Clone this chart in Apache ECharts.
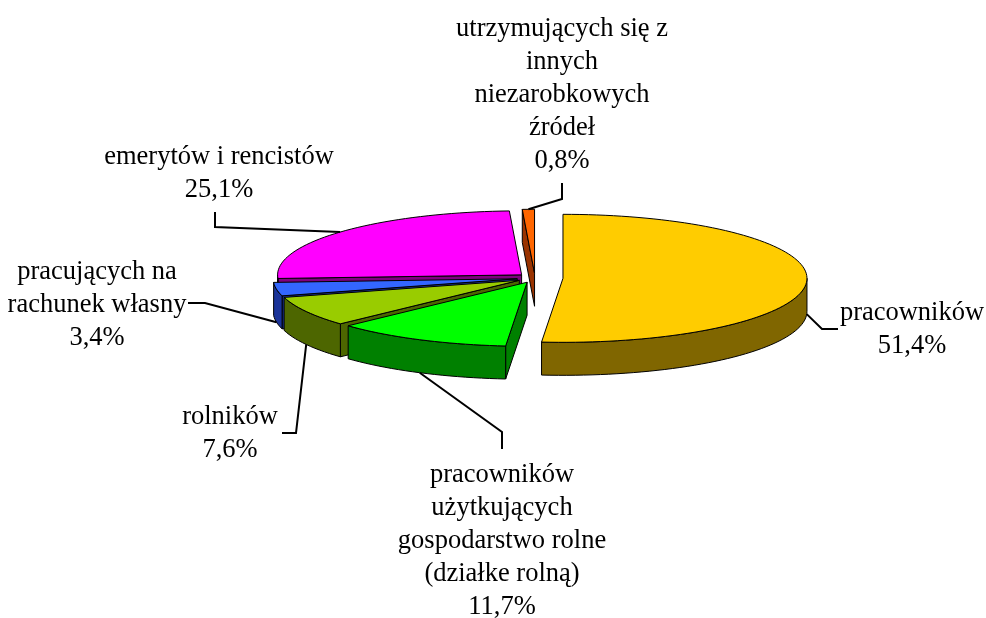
<!DOCTYPE html>
<html>
<head>
<meta charset="utf-8">
<script src="https://cdn.jsdelivr.net/npm/echarts@6/dist/echarts.min.js"></script>
<style>
html, body { margin: 0; background: #fff; }
#main { width: 986px; height: 618px; }
</style>
</head>
<body>
<div id="main"></div>
<script>
// dane
const names = ['pracowników', 'pracowników\nużytkujących\ngospodarstwo rolne\n(działke rolną)', 'rolników', 'pracujących na\nrachunek własny', 'emerytów i rencistów', 'utrzymujących się z\ninnych\nniezarobkowych\nźródeł']
const values = [51.4, 11.7, 7.6, 3.4, 25.1, 0.8]

// wygląd
const topColors = ['#FFCC00', '#00FF00', '#99CC00', '#3366FF', '#FF00FF', '#FF6600']
const sideColors = ['#806600', '#008000', '#4D6600', '#1A3399', '#800080', '#993300']
const explode = [28, 18, 18, 18, 18, 18]
const labelPos = [[912, 330], [502, 541], [230, 434], [97, 305], [219, 174], [562, 95]]
const leaderBend = [[822, 329], [502, 432], [296, 433], [205, 303], [215, 227], [562, 199]]
const leaderEnd = [[838, 329], [502, 449], [282, 433], [188, 303], [215, 212], [562, 183]]

const cx = 535, cy = 278, rx = 244, ry = 64, depth = 33
const total = values.reduce((a, b) => a + b, 0)
const rad = (d) => d * Math.PI / 180

const pt = (ox, oy, deg) => [ox + rx * Math.sin(rad(deg)), oy - ry * Math.cos(rad(deg))]

const renderItem = (params, api) => {
	const i = params.dataIndex
	let before = 0
	for (let k = 0; k < i; k++) before += values[k]
	const a0 = before / total * 360
	const a1 = (before + api.value(0)) / total * 360
	const mid = (a0 + a1) / 2
	const ox = cx + explode[i] * Math.sin(rad(mid))
	const oy = cy - explode[i] * ry / rx * Math.cos(rad(mid))
	const line = { stroke: '#000', lineWidth: 1, lineJoin: 'round' }
	const children = []

	// boczne ściany promieniowe
	;[[a0, a0 - 90], [a1, a1 + 90]].forEach(([a, n]) => {
		if (Math.cos(rad(n)) >= 0) return
		const p = pt(ox, oy, a)
		children.push({
			type: 'polygon',
			z2: 100 + (oy + p[1]) / 2 + depth / 2,
			shape: { points: [[ox, oy], p, [p[0], p[1] + depth], [ox, oy + depth]] },
			style: { fill: sideColors[i], ...line }
		})
	})

	// zewnętrzna ściana (przednia połowa)
	const w0 = Math.max(a0, 90), w1 = Math.min(a1, 270)
	if (w1 > w0) {
		const top = [], bot = []
		const n = Math.max(2, Math.ceil((w1 - w0) / 2))
		for (let k = 0; k <= n; k++) {
			const p = pt(ox, oy, w0 + (w1 - w0) * k / n)
			top.push(p)
			bot.unshift([p[0], p[1] + depth])
		}
		const pm = pt(ox, oy, (w0 + w1) / 2)
		children.push({
			type: 'polygon',
			z2: 100 + pm[1] + depth / 2,
			shape: { points: top.concat(bot) },
			style: { fill: sideColors[i], ...line }
		})
	}

	// górna powierzchnia
	const face = [[ox, oy]]
	const n = Math.max(2, Math.ceil((a1 - a0) / 2))
	for (let k = 0; k <= n; k++) face.push(pt(ox, oy, a0 + (a1 - a0) * k / n))
	children.push({
		type: 'polygon',
		z2: 1000,
		shape: { points: face },
		style: { fill: topColors[i], ...line }
	})

	// linia odniesienia i etykieta
	const ls = pt(ox, oy, mid)
	if (Math.cos(rad(mid)) < 0) ls[1] += depth
	children.push({
		type: 'polyline',
		z2: 1500,
		shape: { points: [ls, leaderBend[i], leaderEnd[i]] },
		style: { stroke: '#000', lineWidth: 2, fill: null }
	})
	children.push({
		type: 'text',
		z2: 2000,
		x: labelPos[i][0],
		y: labelPos[i][1],
		style: {
			text: names[i] + '\n' + values[i].toFixed(1).replace('.', ',') + '%',
			fill: '#000',
			font: '26.5px "Liberation Serif"',
			align: 'center',
			verticalAlign: 'middle',
			lineHeight: 33
		}
	})

	return { type: 'group', children }
}

const myChart = echarts.init(document.getElementById('main'))
const option = {
	animation: false,
	series: [
		{
			type: 'custom',
			coordinateSystem: 'none',
			renderItem,
			data: values
		}
	]
}
option && myChart.setOption(option)
</script>
</body>
</html>
